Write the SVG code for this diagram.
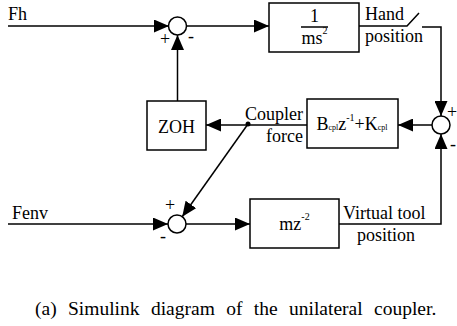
<svg xmlns="http://www.w3.org/2000/svg" width="457" height="326" viewBox="0 0 457 326" font-family="'Liberation Serif', 'DejaVu Serif', serif">
<defs>
<style>
text{font-family:'Liberation Serif','DejaVu Serif',serif;fill:#000}
.t{font-size:18px}
.s{font-size:10px}
.sub{font-size:8px}
.c{text-anchor:middle}
.w{fill:#fff;stroke:#000;stroke-width:1.5}
.l{fill:none;stroke:#000;stroke-width:1.5}
.a{marker-end:url(#ah)}
</style>
<marker id="ah" markerUnits="userSpaceOnUse" markerWidth="16" markerHeight="13" refX="15" refY="6.5" orient="auto"><path d="M0,0 L15,6.5 L0,13 z" fill="#000"/></marker>
</defs>
<rect width="457" height="326" fill="#fff"/>
<g id="connectors">
<path class="l a" d="M8,26 H169"/>
<path class="l a" d="M187,26 H269"/>
<path class="l" d="M359,26 H407 L419,13"/>
<path class="l a" d="M422,27 H441 V116"/>
<path class="l a" d="M432,125 H398"/>
<path class="l a" d="M307,125 H206"/>
<path class="l a" d="M177.5,101 V35"/>
<path class="l a" d="M248,124 L182.2,216.7"/>
<path class="l a" d="M8,224 H168"/>
<path class="l a" d="M186,224 H250"/>
<path class="l a" d="M339,224 H441 V134"/>
<circle cx="248" cy="124" r="2.5" fill="#000"/>
</g>
<g id="in-fh"><text class="t" x="8" y="20">Fh</text></g>
<g id="in-fenv"><text class="t" x="12" y="219">Fenv</text></g>
<g id="sum1"><circle class="w" cx="177.5" cy="26" r="9"/><text class="t" x="160" y="45">+</text><text class="t" x="188" y="42">-</text></g>
<g id="plant"><rect class="w" x="269" y="3" width="90" height="49"/><text class="t c" x="314.5" y="22">1</text><line class="l" x1="301" y1="27" x2="328" y2="27"/><text class="t c" x="314.5" y="44">ms<tspan class="s" dy="-10">2</tspan></text></g>
<g id="hand-label"><text class="t" x="365" y="20">Hand</text><text class="t" x="365" y="42">position</text></g>
<g id="sum2"><circle class="w" cx="441" cy="125" r="9"/><text class="t" x="447" y="118">+</text><text class="t" x="450" y="150">-</text></g>
<g id="coupler"><rect class="w" x="307" y="99" width="91" height="49"/><text class="t c" x="352" y="130">B<tspan class="sub">cpl</tspan>z<tspan class="s" dy="-9">-1</tspan><tspan dy="9">+K</tspan><tspan class="sub">cpl</tspan></text></g>
<g id="coupler-label"><text class="t" x="303" y="120" text-anchor="end">Coupler</text><text class="t" x="303" y="142" text-anchor="end">force</text></g>
<g id="zoh"><rect class="w" x="147" y="101" width="59" height="49"/><text class="t c" x="176.5" y="133">ZOH</text></g>
<g id="sum3"><circle class="w" cx="177" cy="224" r="9"/><text class="t" x="165" y="211">+</text><text class="t" x="160" y="242">-</text></g>
<g id="tool"><rect class="w" x="250" y="199" width="89" height="49"/><text class="t c" x="294.5" y="230">mz<tspan class="s" dy="-10">-2</tspan></text></g>
<g id="tool-label"><text class="t" x="343" y="219">Virtual tool</text><text class="t" x="357" y="241">position</text></g>
<text x="35" y="315" style="font-size:19.5px;word-spacing:6.5px">(a) Simulink diagram of the unilateral coupler.</text>
</svg>
